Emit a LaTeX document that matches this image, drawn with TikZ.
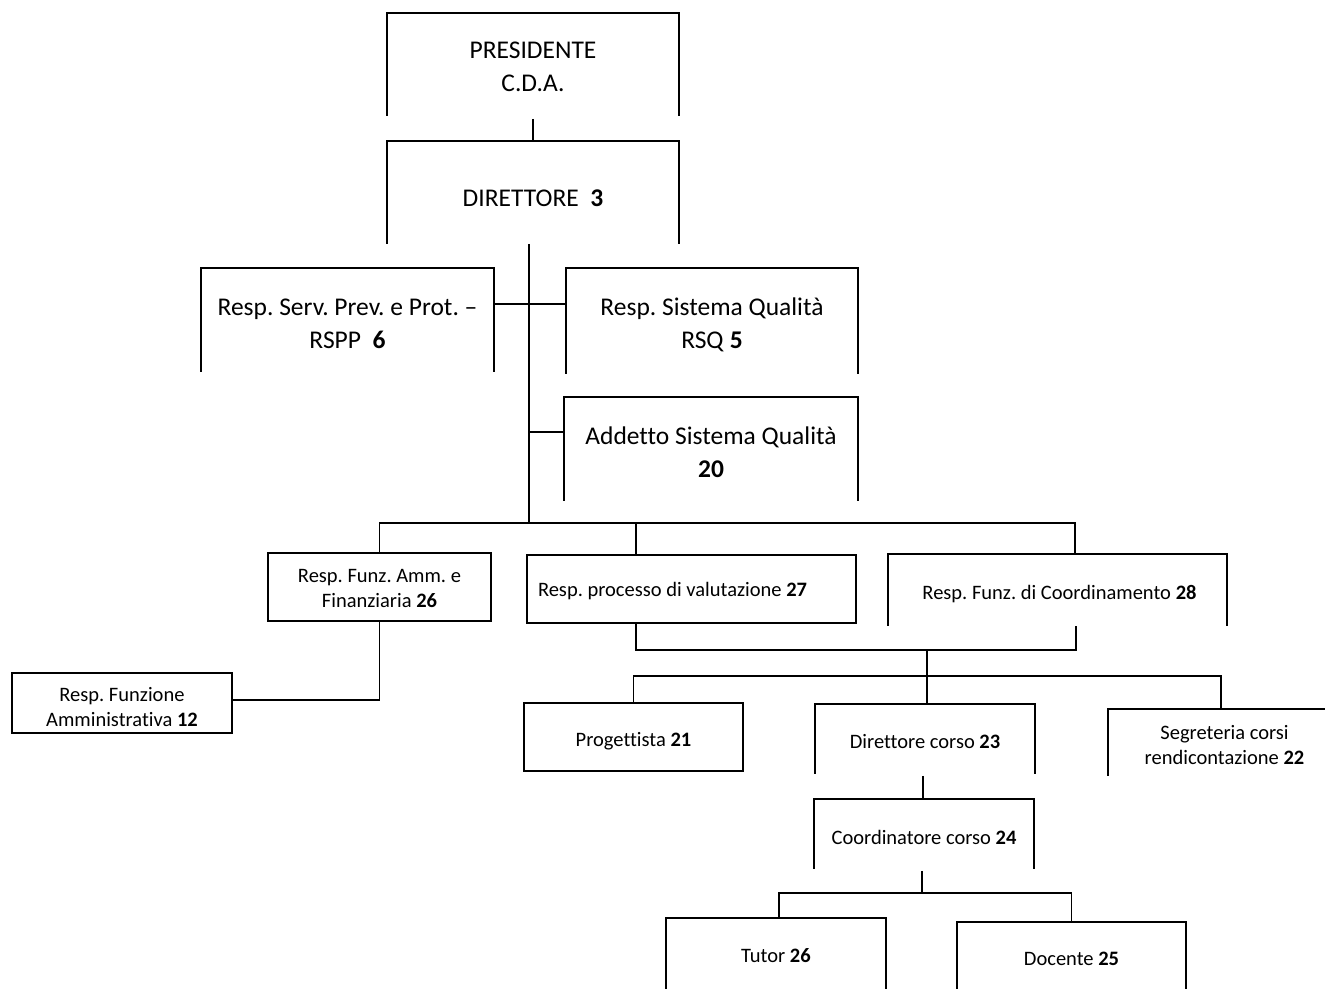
\documentclass[tikz,border=0pt]{standalone}
\usepackage{fontspec}
\setmainfont{Carlito}[Ligatures=CommonOff]
\usetikzlibrary{calc}
\frenchspacing
\begin{document}
\begin{tikzpicture}[x=1pt,y=-1pt,line width=1.8pt,
  bigtxt/.style={font=\fontsize{25.5}{33}\selectfont\frenchspacing, align=center, inner sep=0pt},
  smalltxt/.style={font=\fontsize{20.5}{25}\selectfont\frenchspacing, align=center, inner sep=0pt},
  orgbox/.style={draw=none, inner sep=0pt},
  fullbox/.style={draw=black, line width=1.8pt, inner sep=0pt},
  conn/.style={draw=black, line width=1.8pt}]
\useasboundingbox (0,0) rectangle (1325,988);
\clip (0,0) rectangle (1325,988);

% boxes
\node[orgbox, minimum width=290pt, minimum height=101pt] (pres) at (533,64.5) {};
\node[orgbox, minimum width=290pt, minimum height=101pt] (dir) at (533,192.5) {};
\node[orgbox, minimum width=291pt, minimum height=102pt] (rspp) at (347.5,320) {};
\node[orgbox, minimum width=290pt, minimum height=104pt] (rsq) at (712,321) {};
\node[orgbox, minimum width=292pt, minimum height=102pt] (add) at (711,449) {};
\node[fullbox, minimum width=223pt, minimum height=68pt] (amm) at (379.5,587) {};
\node[fullbox, minimum width=220pt, minimum height=60pt] (fam) at (122,703) {};
\node[fullbox, minimum width=329pt, minimum height=68pt] (val) at (691.5,589) {};
\node[orgbox, minimum width=337pt, minimum height=70pt] (coord) at (1057.5,590) {};
\node[fullbox, minimum width=219pt, minimum height=68pt] (prog) at (633.5,737) {};
\node[orgbox, minimum width=218pt, minimum height=68pt] (dc) at (925,739) {};
\node[orgbox, minimum width=231pt, minimum height=65pt] (seg) at (1224.5,742.5) {};
\node[orgbox, minimum width=218pt, minimum height=68pt] (cc) at (924,834) {};
\node[orgbox, minimum width=218pt, minimum height=72pt] (tut) at (776,955) {};
\node[orgbox, minimum width=227pt, minimum height=70pt] (doc) at (1071.5,958) {};

% texts
\node[bigtxt] (presT) at ($(pres.center)+(0,2)$) {PRESIDENTE\\C.D.A.};
\node[bigtxt] (dirT) at ($(dir.center)+(0,6)$) {DIRETTORE\ \ \textbf{3}};
\node[bigtxt] (rsppT) at ($(rspp.center)+(0,4)$) {Resp. Serv. Prev. e Prot. \textendash\\RSPP\ \ \textbf{6}};
\node[bigtxt] (rsqT) at ($(rsq.center)+(0,4)$) {Resp. Sistema Qualità\\RSQ \textbf{5}};
\node[bigtxt] (addT) at ($(add.center)+(0,3)$) {Addetto Sistema Qualità\\\textbf{20}};
\node[smalltxt] (ammT) at ($(amm.center)+(0,1)$) {Resp. Funz. Amm. e\\Finanziaria \textbf{26}};
\node[smalltxt] (famT) at ($(fam.center)+(0,4)$) {Resp. Funzione\\Amministrativa \textbf{12}};
\node[smalltxt, anchor=west] (valT) at ($(val.west)+(11,2)$) {Resp. processo di valutazione \textbf{27}};
\node[smalltxt] (coordT) at ($(coord.center)+(2,4)$) {Resp. Funz. di Coordinamento \textbf{28}};
\node[smalltxt] (progT) at ($(prog.center)+(0,4)$) {Progettista \textbf{21}};
\node[smalltxt] (dcT) at ($(dc.center)+(0,3)$) {Direttore corso \textbf{23}};
\node[smalltxt] (segT) at ($(seg.center)+(0,3)$) {Segreteria corsi\\rendicontazione \textbf{22}};
\node[smalltxt] (ccT) at ($(cc.center)+(0,3)$) {Coordinatore corso \textbf{24}};
\node[smalltxt] (tutT) at ($(tut.center)+(0,1)$) {Tutor \textbf{26}};
\node[smalltxt] (docT) at ($(doc.center)+(0,1)$) {Docente \textbf{25}};

% open box borders (top and sides)
\foreach \n in {pres,dir,rspp,rsq,add,coord,dc,cc,tut,doc}{
  \draw (\n.south west) -- (\n.north west) -- (\n.north east) -- (\n.south east);
}
\draw (seg.south west) -- (seg.north west) -- (seg.north east);

% connectors
\coordinate (hub) at (529,523);
\coordinate (hubR) at (1075,523);
\draw[conn] ($(pres.south)+(0,3)$) -- (dir.north);
\draw[conn] (dir.south -| hub) -- (hub);
\draw[conn] ($(rspp.east)+(0,-16)$) -- ($(rsq.west)+(0,-17)$);
\draw[conn] ($(add.west)+(0,-17)$) coordinate (a1) -- (a1 -| hub);
\draw[conn] (amm.north) -- (amm.north |- hub) -- (hubR) -- (hubR |- coord.north);
\coordinate (vtop) at ($(val.north west)+(110,0)$);
\draw[conn] (vtop) -- (vtop |- hub);
\draw[conn] (amm.south) |- ($(fam.east)+(0,-3)$);
\coordinate (vbot) at ($(val.south west)+(110,0)$);
\coordinate (cbot) at ($(coord.south east)+(-151,0)$);
\coordinate (mid) at (927,650);
\coordinate (b2) at (927,677);
\draw[conn] (vbot) |- (mid) -| (cbot);
\draw[conn] (mid) -- (b2);
\draw[conn] (prog.north) |- ($(seg.north west)+(113,-33)$) coordinate (s1) -- (s1 |- seg.north);
\draw[conn] (b2) -- (b2 |- dc.north);
\draw[conn] ($(dc.south)+(-2,2)$) coordinate (d1) -- (d1 |- cc.north);
\coordinate (b3) at (922,893);
\draw[conn] ($(cc.south)+(-2,2)$) coordinate (c1) -- (c1 |- b3);
\draw[conn] ($(tut.north)+(3,0)$) |- (b3) -| (doc.north);
\end{tikzpicture}
\end{document}
